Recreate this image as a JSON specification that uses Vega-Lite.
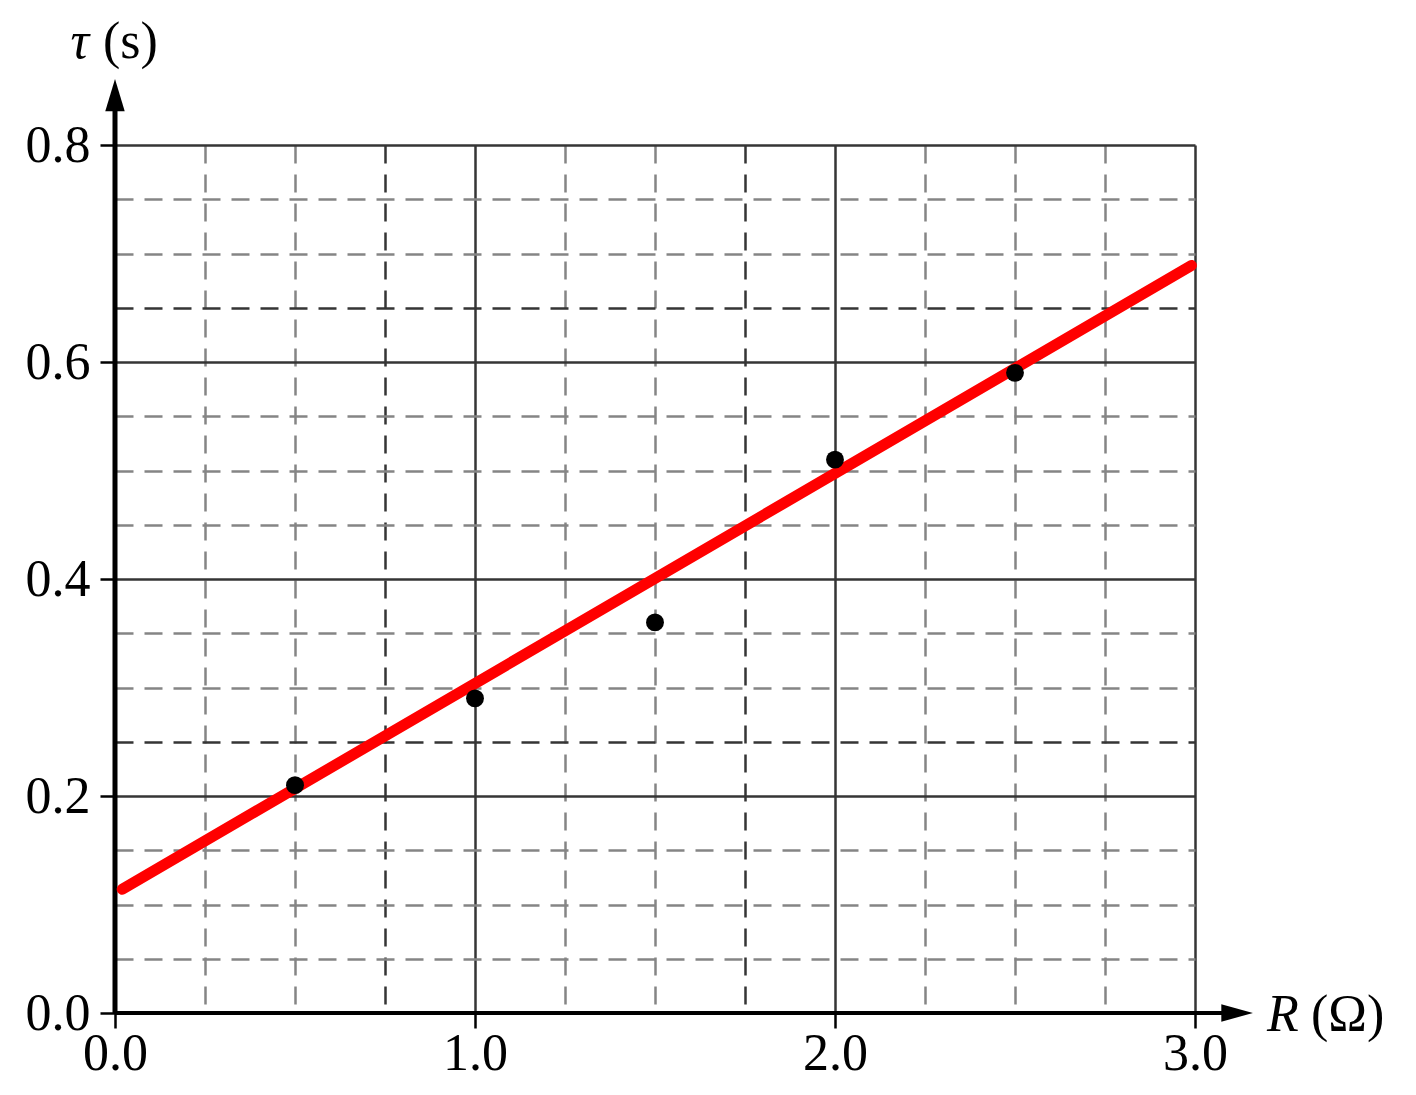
{
  "$schema": "https://vega.github.io/schema/vega-lite/v6.json",
  "width": 1080,
  "height": 868,
  "autosize": "none",
  "padding": {"left": 115, "top": 145, "right": 221, "bottom": 82},
  "background": "white",
  "datasets": {
    "points": [
      {"R": 0.5, "tau": 0.21},
      {"R": 1.0, "tau": 0.29},
      {"R": 1.5, "tau": 0.36},
      {"R": 2.0, "tau": 0.51},
      {"R": 2.5, "tau": 0.59}
    ],
    "fit": [
      {"R": 0.02, "tau": 0.114},
      {"R": 2.99, "tau": 0.689}
    ],
    "one": [{}]
  },
  "layer": [
    {
      "data": {"name": "points"},
      "mark": {"type": "point", "filled": true, "opacity": 0},
      "encoding": {
        "x": {
          "field": "R",
          "type": "quantitative",
          "scale": {"domain": [0, 3], "nice": false, "zero": true},
          "axis": {
            "title": null,
            "domain": false,
            "values": [0, 0.25, 0.5, 0.75, 1, 1.25, 1.5, 1.75, 2, 2.25, 2.5, 2.75, 3],
            "labelExpr": "datum.value % 1 === 0 ? format(datum.value, '.1f') : ''",
            "labelFont": "Liberation Serif",
            "labelFontSize": 52,
            "labelColor": "black",
            "labelPadding": 0,
            "labelFlush": false,
            "labelBound": false,
            "labelOverlap": false,
            "tickSize": 15,
            "tickWidth": 2.5,
            "tickColor": "black",
            "tickOpacity": {"condition": {"test": "datum.value % 1 === 0", "value": 1}, "value": 0},
            "grid": true,
            "gridDash": {"condition": {"test": "datum.value % 1 === 0", "value": []}, "value": [18, 11]},
            "gridColor": {"condition": {"test": "datum.value % 1 === 0 || datum.value === 0.75 || datum.value === 1.75", "value": "#353535"}, "value": "#858585"},
            "gridWidth": 2.5,
            "gridOpacity": 1
          }
        },
        "y": {
          "field": "tau",
          "type": "quantitative",
          "scale": {"domain": [0, 0.8], "nice": false, "zero": true},
          "axis": {
            "title": null,
            "domain": false,
            "values": [0, 0.05, 0.1, 0.15, 0.2, 0.25, 0.3, 0.35, 0.4, 0.45, 0.5, 0.55, 0.6, 0.65, 0.7, 0.75, 0.8],
            "labelExpr": "abs(datum.value * 5 - round(datum.value * 5)) < 0.000001 ? format(datum.value, '.1f') : ''",
            "labelFont": "Liberation Serif",
            "labelFontSize": 52,
            "labelColor": "black",
            "labelPadding": 10,
            "labelFlush": false,
            "labelBound": false,
            "labelOverlap": false,
            "tickSize": 15,
            "tickWidth": 2.5,
            "tickColor": "black",
            "tickOpacity": {"condition": {"test": "abs(datum.value * 5 - round(datum.value * 5)) < 0.000001", "value": 1}, "value": 0},
            "grid": true,
            "gridDash": {"condition": {"test": "abs(datum.value * 5 - round(datum.value * 5)) < 0.000001", "value": []}, "value": [18, 11]},
            "gridColor": {"condition": {"test": "abs(datum.value * 5 - round(datum.value * 5)) < 0.000001 || abs(datum.value - 0.25) < 0.000001 || abs(datum.value - 0.65) < 0.000001", "value": "#353535"}, "value": "#858585"},
            "gridWidth": 2.5,
            "gridOpacity": 1
          }
        }
      }
    },
    {
      "data": {"name": "one"},
      "mark": {"type": "rule", "color": "black", "strokeWidth": 5},
      "encoding": {
        "x": {"datum": 0, "type": "quantitative"},
        "y": {"datum": 0, "type": "quantitative"},
        "y2": {"datum": 0.84}
      }
    },
    {
      "data": {"name": "one"},
      "mark": {"type": "rule", "color": "black", "strokeWidth": 4},
      "encoding": {
        "x": {"datum": 0, "type": "quantitative"},
        "x2": {"datum": 3.1},
        "y": {"datum": 0, "type": "quantitative"}
      }
    },
    {
      "data": {"name": "one"},
      "mark": {"type": "point", "shape": "M0,-1L0.6,1L-0.6,1Z", "size": 1050, "filled": true, "color": "black", "opacity": 1, "strokeWidth": 0},
      "encoding": {
        "x": {"datum": 0, "type": "quantitative"},
        "y": {"datum": 0.846, "type": "quantitative"}
      }
    },
    {
      "data": {"name": "one"},
      "mark": {"type": "point", "shape": "M1,0L-1,0.55L-1,-0.55Z", "size": 1000, "filled": true, "color": "black", "opacity": 1, "strokeWidth": 0},
      "encoding": {
        "x": {"datum": 3.117, "type": "quantitative"},
        "y": {"datum": 0, "type": "quantitative"}
      }
    },
    {
      "data": {"name": "fit"},
      "mark": {"type": "line", "color": "#ff0000", "strokeWidth": 11, "strokeCap": "round"},
      "encoding": {
        "x": {"field": "R", "type": "quantitative"},
        "y": {"field": "tau", "type": "quantitative"}
      }
    },
    {
      "data": {"name": "points"},
      "mark": {"type": "circle", "color": "black", "size": 320, "opacity": 1},
      "encoding": {
        "x": {"field": "R", "type": "quantitative"},
        "y": {"field": "tau", "type": "quantitative"}
      }
    },
    {
      "data": {"name": "one"},
      "mark": {"type": "text", "text": "τ", "font": "Liberation Serif", "fontSize": 52, "fontStyle": "italic", "align": "right", "baseline": "alphabetic", "dx": -26, "dy": -87, "color": "black"},
      "encoding": {
        "x": {"datum": 0, "type": "quantitative"},
        "y": {"datum": 0.8, "type": "quantitative"}
      }
    },
    {
      "data": {"name": "one"},
      "mark": {"type": "text", "text": "(s)", "font": "Liberation Serif", "fontSize": 52, "align": "left", "baseline": "alphabetic", "dx": -12, "dy": -87, "color": "black"},
      "encoding": {
        "x": {"datum": 0, "type": "quantitative"},
        "y": {"datum": 0.8, "type": "quantitative"}
      }
    },
    {
      "data": {"name": "one"},
      "mark": {"type": "text", "text": "R", "font": "Liberation Serif", "fontSize": 52, "fontStyle": "italic", "align": "left", "baseline": "alphabetic", "dx": 72, "dy": 18, "color": "black"},
      "encoding": {
        "x": {"datum": 3, "type": "quantitative"},
        "y": {"datum": 0, "type": "quantitative"}
      }
    },
    {
      "data": {"name": "one"},
      "mark": {"type": "text", "text": "(Ω)", "font": "Liberation Serif", "fontSize": 52, "align": "left", "baseline": "alphabetic", "dx": 116, "dy": 18, "color": "black"},
      "encoding": {
        "x": {"datum": 3, "type": "quantitative"},
        "y": {"datum": 0, "type": "quantitative"}
      }
    }
  ],
  "config": {
    "font": "Liberation Serif",
    "view": {"stroke": null}
  }
}
